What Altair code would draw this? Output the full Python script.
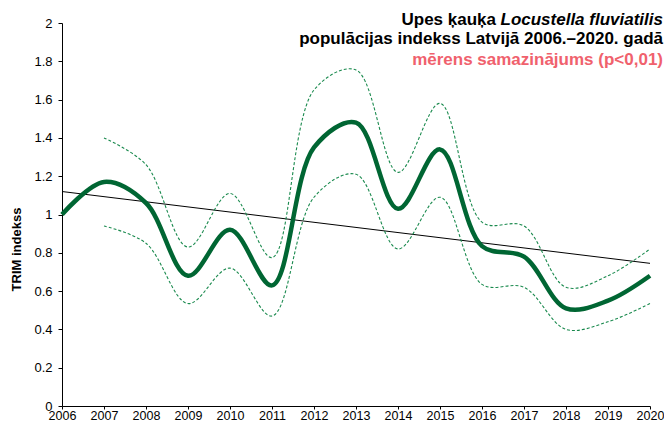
import altair as alt
import pandas as pd

# ---- data ----
years = list(range(2006, 2021))
index_vals = [1.00, 1.17, 1.06, 0.68, 0.92, 0.63, 1.35, 1.48, 1.03, 1.34, 0.835, 0.78, 0.51, 0.55, 0.68]
ci_years = list(range(2007, 2021))
upper_vals = [1.40, 1.26, 0.83, 1.11, 0.775, 1.65, 1.755, 1.22, 1.58, 0.96, 0.94, 0.62, 0.68, 0.82]
lower_vals = [0.94, 0.85, 0.535, 0.72, 0.47, 1.09, 1.21, 0.82, 1.09, 0.635, 0.62, 0.40, 0.44, 0.535]
trend_years = [2006, 2020]
trend_vals = [1.12, 0.745]
y_ticks = [0, 0.2, 0.4, 0.6, 0.8, 1.0, 1.2, 1.4, 1.6, 1.8, 2.0]

title1_a = "Upes ķauķa"
title1_b = "Locustella fluviatilis"
title2 = "populācijas indekss Latvijā 2006.–2020. gadā"
title3 = "mērens samazinājums (p<0,01)"

FONT = "Liberation Sans"
GREEN = "#006633"
DASH_GREEN = "#1a8a4e"

main_df = pd.DataFrame({"year": years, "v": index_vals})
ci_df = pd.DataFrame({"year": ci_years, "up": upper_vals, "lo": lower_vals})
trend_df = pd.DataFrame({"year": trend_years, "v": trend_vals})

W, H = 588, 383

xscale = alt.Scale(domain=[2006, 2020], nice=False, zero=False)
yscale = alt.Scale(domain=[0, 2], nice=False)

xaxis = alt.Axis(values=years, format="d", title=None, grid=False,
                 tickSize=3, labelPadding=0, labelFontSize=12.5,
                 labelFlush=False, labelOverlap=False, labelBound=False)
yaxis = alt.Axis(values=y_ticks, format=".1~f", title="TRIM indekss", grid=False,
                 tickSize=4, labelPadding=6, labelFontSize=13,
                 labelFlush=False, labelOverlap=False,
                 titleFontSize=13, titleFontWeight="bold", titleX=-39, titleY=226)


def series(df, field, **mark):
    return alt.Chart(df).mark_line(**mark).encode(
        x=alt.X("year:Q", scale=xscale, axis=xaxis),
        y=alt.Y(f"{field}:Q", scale=yscale, axis=yaxis),
    )


trend = series(trend_df, "v", color="black", strokeWidth=1)
upper = series(ci_df, "up", color=DASH_GREEN, strokeWidth=1.1, strokeDash=[3, 2],
               interpolate="catmull-rom")
lower = series(ci_df, "lo", color=DASH_GREEN, strokeWidth=1.1, strokeDash=[3, 2],
               interpolate="catmull-rom")
main = series(main_df, "v", color=GREEN, strokeWidth=4.5, interpolate="catmull-rom")


def text_layer(txt, x, y, color="black", style="normal"):
    return alt.Chart(alt.Data(values=[{"t": txt}])).mark_text(
        align="right", baseline="alphabetic", font=FONT, fontSize=17,
        fontWeight="bold", fontStyle=style, color=color,
    ).encode(x=alt.value(x), y=alt.value(y), text="t:N")


t1b = text_layer(title1_b, 601, 2, style="italic")
t1a = text_layer(title1_a, 434, 2)
t2 = text_layer(title2, 601, 21)
t3 = text_layer(title3, 601, 42, color="#f0616d")

chart = alt.layer(trend, upper, lower, main, t1a, t1b, t2, t3).properties(
    width=W, height=H,
    autosize=alt.AutoSizeParams(type="none"),
    padding={"left": 54, "top": 15, "right": 14, "bottom": 16},
).configure_view(stroke=None).configure_axis(
    domainColor="black", tickColor="black", labelColor="black", titleColor="black",
    labelFont=FONT, titleFont=FONT, domainWidth=1, tickWidth=1,
)

chart.save("out.html", embed_options={"renderer": "svg", "actions": False})
